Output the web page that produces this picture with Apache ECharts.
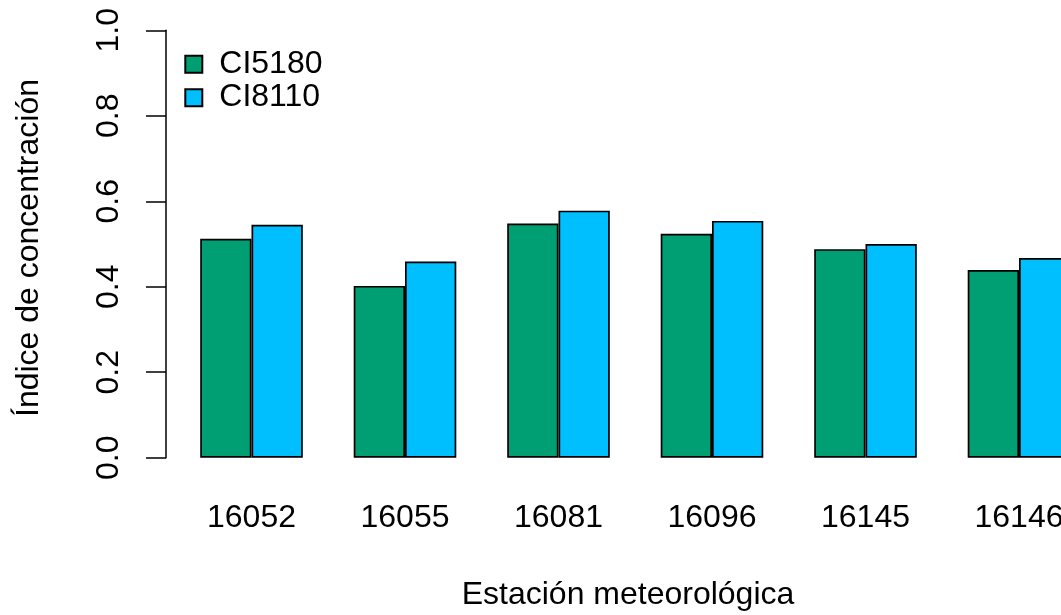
<!DOCTYPE html>
<html>
<head>
<meta charset="utf-8">
<script src="https://cdn.jsdelivr.net/npm/echarts@6/dist/echarts.min.js"></script>
<style>
  html, body { margin: 0; padding: 0; background: #ffffff; }
  #chart { width: 1061px; height: 615px; }
</style>
</head>
<body>
<div id="chart"></div>
<script>
// Weather stations and their concentration index for two reference periods
const stations = ['16052', '16055', '16081', '16096', '16145', '16146'];
const ci5180 = [0.512, 0.402, 0.548, 0.524, 0.488, 0.439];
const ci8110 = [0.545, 0.459, 0.578, 0.554, 0.500, 0.467];
const yTicks = { min: 0, max: 1, step: 0.2 };

const FONT = '"Liberation Sans", Arial, Helvetica, sans-serif';
const chart = echarts.init(document.getElementById('chart'), null, { renderer: 'canvas' });

const barStyle = (color) => ({
  color: color,
  borderColor: '#000000',
  borderWidth: 1.7
});

chart.setOption({
  animation: false,
  backgroundColor: '#ffffff',
  // the plotting area runs past the right edge, so the last group is cut off
  grid: {
    left: 174.75, top: 30.3, width: 921, height: 427.4,
    containLabel: false,
    outerBoundsMode: 'none'
  },
  legend: {
    orient: 'vertical',
    left: 184.3,
    top: 47.7,
    padding: 0,
    itemGap: 0,
    itemWidth: 17,
    itemHeight: 17,
    icon: 'rect',
    selectedMode: false,
    textStyle: {
      fontFamily: FONT,
      fontSize: 32,
      lineHeight: 33.3,
      color: '#000000',
      padding: [0, 0, 0, 12]
    },
    data: ['CI5180', 'CI8110']
  },
  xAxis: {
    type: 'category',
    data: stations,
    boundaryGap: true,
    axisLine: { show: false },
    axisTick: { show: false },
    splitLine: { show: false },
    axisLabel: {
      fontFamily: FONT,
      fontSize: 32,
      color: '#000000',
      margin: 44,
      interval: 0,
      hideOverlap: false
    }
  },
  yAxis: {
    type: 'value',
    min: yTicks.min,
    max: yTicks.max,
    interval: yTicks.step,
    offset: 8.75,
    splitLine: { show: false },
    axisLine: { show: true, lineStyle: { color: '#000000', width: 1.5 } },
    axisTick: { show: true, length: 20, lineStyle: { color: '#000000', width: 1.5 } },
    axisLabel: {
      rotate: 90,
      fontFamily: FONT,
      fontSize: 32,
      color: '#000000',
      margin: 41,
      formatter: (v) => v.toFixed(1)
    }
  },
  series: [
    {
      name: 'CI5180',
      type: 'bar',
      data: ci5180,
      barWidth: 51.3,
      barGap: '0%',
      itemStyle: barStyle('#009E73')
    },
    {
      name: 'CI8110',
      type: 'bar',
      data: ci8110,
      barWidth: 51.3,
      barGap: '0%',
      itemStyle: barStyle('#00BFFF')
    }
  ],
  graphic: [
    {
      type: 'text',
      x: 28.9,
      y: 248,
      rotation: Math.PI / 2,
      style: {
        text: 'Índice de concentración',
        fontFamily: FONT,
        fontSize: 32,
        fill: '#000000',
        align: 'center',
        verticalAlign: 'middle'
      }
    },
    {
      type: 'text',
      x: 628,
      y: 595.6,
      style: {
        text: 'Estación meteorológica',
        fontFamily: FONT,
        fontSize: 32,
        fill: '#000000',
        align: 'center',
        verticalAlign: 'middle'
      }
    }
  ]
});
</script>
</body>
</html>
